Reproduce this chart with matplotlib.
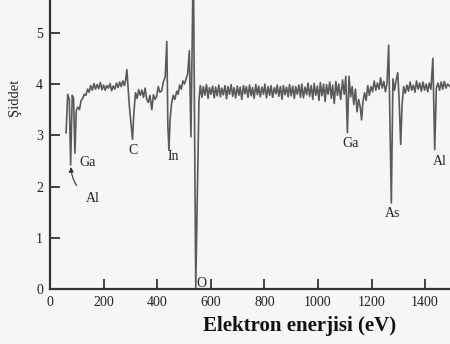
import matplotlib
matplotlib.use("Agg")
import matplotlib.pyplot as plt

# Auger spectrum, values
energy_low = [60, 66, 72, 77, 83, 88, 93, 98, 104, 110, 116, 122, 128, 134, 140,
              146, 152, 158, 164, 170, 176, 182, 188, 194, 200, 206, 212, 218, 224,
              230, 236, 242, 248, 254, 260, 266, 272, 278, 283, 287, 291, 296, 301,
              308, 313, 319, 325, 331, 337, 343, 349, 355, 361, 367, 373, 380, 386,
              392, 398, 404, 410, 417, 423, 430, 436, 440, 444, 448, 454, 460, 466,
              473, 478, 484, 490, 496, 502, 508, 514, 520, 526, 535, 544, 556]
signal_low = [3.05, 3.80, 3.70, 2.42, 3.78, 3.72, 2.65, 3.48, 3.55, 3.50, 3.68, 3.72, 3.80, 3.78, 3.90,
              3.84, 3.97, 3.88, 4.01, 3.90, 3.99, 3.91, 4.03, 3.89, 3.98, 3.88, 3.97, 3.92, 4.01,
              3.87, 3.96, 3.90, 4.02, 3.93, 4.04, 3.95, 4.06, 3.97, 4.10, 4.28, 3.98, 3.58, 3.30,
              2.92, 3.43, 3.83, 3.72, 3.89, 3.78, 3.88, 3.74, 3.92, 3.70, 3.64, 3.78, 3.50, 3.79,
              3.70, 3.76, 3.95, 3.84, 3.87, 4.04, 4.14, 4.83, 3.17, 2.71, 3.30, 3.63, 3.78, 3.70,
              3.86, 3.80, 3.98, 3.90, 4.06, 4.00, 4.10, 4.20, 4.65, 2.97, 6.50, 0.03, 3.68]

energy_mid = [561, 567, 572, 578, 584, 590, 595, 601, 607, 613, 618, 624, 630, 636, 641,
              647, 653, 659, 664, 670, 676, 682, 687, 693, 699, 705, 710, 716, 722, 728,
              733, 739, 745, 751, 756, 762, 768, 774, 779, 785, 791, 797, 802, 808, 814,
              820, 825, 831, 837, 843, 848, 854, 860, 866, 871, 877, 883, 889, 894, 900,
              906, 912, 917, 923, 929, 935, 940, 946, 952, 958, 963, 969, 975, 981, 986,
              992, 998, 1004, 1009, 1015, 1021, 1027, 1032, 1038, 1044, 1050, 1055, 1061,
              1067, 1073, 1078]
signal_mid = [3.97, 3.74, 3.95, 3.78, 3.99, 3.72, 3.93, 3.80, 3.96, 3.73, 3.94, 3.77, 3.98, 3.75, 3.92,
              3.79, 3.97, 3.71, 3.95, 3.80, 3.99, 3.76, 3.93, 3.73, 3.96, 3.78, 3.94, 3.70, 3.97, 3.81,
              3.95, 3.74, 3.98, 3.77, 3.93, 3.72, 3.99, 3.79, 3.96, 3.75, 3.94, 3.80, 4.00, 3.73, 3.95,
              3.78, 3.97, 3.74, 3.93, 3.81, 3.98, 3.76, 3.95, 3.70, 3.97, 3.79, 3.94, 3.75, 3.99, 3.77,
              3.96, 3.72, 3.95, 3.80, 3.98, 3.74, 4.00, 3.73, 3.94, 3.79, 4.02, 3.76, 3.97, 3.70, 4.01,
              3.78, 3.96, 3.68, 4.03, 3.77, 4.00, 3.66, 3.99, 3.80, 4.04, 3.72, 3.98, 3.62,
              4.05, 3.78, 4.00]

energy_high = [1085, 1092, 1098, 1104, 1110, 1116, 1122, 1128, 1134, 1140, 1146, 1152, 1158,
               1163, 1168, 1174, 1180, 1186, 1192, 1198, 1204, 1210, 1216, 1222, 1228, 1234,
               1240, 1246, 1252, 1258, 1264, 1274, 1280, 1286, 1292, 1298, 1303, 1309, 1314,
               1320, 1326, 1332, 1338, 1344, 1350, 1356, 1362, 1368, 1374, 1380, 1386, 1392,
               1398, 1404, 1410, 1416, 1422, 1429, 1436, 1442, 1448, 1454, 1460, 1466, 1472,
               1478, 1484, 1493]
signal_high = [3.70, 4.08, 3.80, 4.15, 3.05, 4.15, 3.75, 3.95, 3.60, 3.90, 3.46, 3.70, 3.55,
               3.30, 3.65, 3.83, 3.68, 3.97, 3.78, 3.95, 3.85, 4.06, 3.88, 4.02, 3.90, 4.12,
               3.92, 4.05, 3.85, 4.02, 4.76, 1.68, 4.10, 3.88, 4.08, 4.22, 3.70, 2.82, 3.60,
               3.95, 3.82, 3.98, 3.86, 4.04, 3.88, 3.98, 3.84, 4.06, 3.90, 4.02, 3.86, 4.04,
               3.88, 4.00, 3.85, 4.02, 3.90, 4.50, 2.72, 3.92, 4.02, 3.88, 4.04, 3.90, 4.05,
               3.92, 4.00, 3.95]

energy = energy_low + energy_mid + energy_high
signal = signal_low + signal_mid + signal_high

# peak labels: (text, energy, intensity)
peak_labels = [("Ga", 142, 2.46), ("C", 310, 2.71), ("In", 459, 2.58), ("O", 567, 0.10),
               ("Ga", 1120, 2.83), ("As", 1277, 1.48), ("Al", 1456, 2.48)]

plt.rcParams['font.family'] = ['Liberation Serif', 'DejaVu Serif']

fig = plt.figure(figsize=(4.5, 3.44), dpi=100, facecolor='#f6f6f4')
ax = fig.add_axes([50 / 450, 55 / 344, 400 / 450, 289 / 344])
ax.set_facecolor('#f6f6f4')

ax.plot(energy, signal, color='#5a5a5a', lw=1.2)

ax.set_xlim(0, 1493)
ax.set_ylim(0, 5.64)
ax.set_xticks(range(0, 1401, 200))
ax.set_yticks(range(0, 6))
ax.tick_params(direction='in', length=7, width=1.2, labelsize=10, colors='#222222', pad=5)

for s in ['top', 'right']:
    ax.spines[s].set_visible(False)
for s in ['left', 'bottom']:
    ax.spines[s].set_linewidth(1.6)
    ax.spines[s].set_color('#333333')

for txt, x, y in peak_labels:
    ax.text(x, y, txt, ha='center', va='center', fontsize=10, color='#222222')

# Al with curved arrow near the low energy end
ax.annotate("Al", xy=(78, 2.38), xytext=(160, 1.76), ha='center', va='center',
            fontsize=10, color='#222222',
            arrowprops=dict(arrowstyle='-|>', color='#333333', lw=0.8,
                            connectionstyle='arc3,rad=-0.3', shrinkA=7, shrinkB=0,
                            mutation_scale=7))

fig.text(14 / 450, 1 - 97 / 344, "Şiddet", rotation=90, ha='center', va='center',
         fontsize=10.5, color='#222222')
fig.text(300 / 450, 1 - 326 / 344, "Elektron enerjisi (eV)", ha='center', va='center',
         fontsize=15, fontweight='bold', color='#111111')

fig.savefig('out.png', dpi=100, facecolor=fig.get_facecolor())
